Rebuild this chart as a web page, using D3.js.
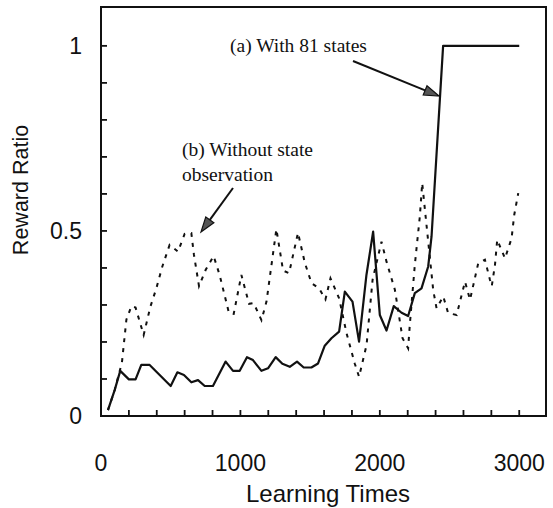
<!DOCTYPE html>
<html><head><meta charset="utf-8">
<script src="https://cdn.jsdelivr.net/npm/d3@7"></script>
<style>body{margin:0;background:#fff}svg{display:block}</style>
</head><body>
<svg id="chart" width="553" height="508"></svg>
<script>
// Series (a): with 81 states (solid)
const aX = [50,98,138,200,248,289,349,500,548,595,648,696,744,803,894,947,995,1047,1090,1151,1198,1253,1301,1354,1406,1454,1509,1557,1605,1653,1708,1749,1804,1851,1904,1952,2000,2048,2100,2156,2203,2251,2299,2347,2371,2454,3000];
const aY = [0.016,0.07,0.122,0.099,0.099,0.138,0.138,0.081,0.118,0.111,0.091,0.097,0.081,0.081,0.147,0.122,0.122,0.159,0.151,0.122,0.129,0.159,0.141,0.133,0.147,0.131,0.131,0.142,0.19,0.21,0.228,0.336,0.309,0.201,0.381,0.498,0.273,0.231,0.297,0.279,0.27,0.332,0.345,0.404,0.485,1.0,1.0];
// Series (b): without state observation (dashed)
const bX = [50,98,150,182,218,248,306,354,397,440,492,552,600,648,667,703,751,808,851,918,952,1007,1062,1095,1151,1187,1258,1306,1349,1413,1462,1510,1564,1610,1646,1708,1761,1820,1851,1905,1948,2012,2048,2108,2163,2203,2215,2251,2287,2304,2383,2407,2455,2490,2551,2611,2647,2706,2754,2790,2803,2826,2842,2898,2945,2964,2993];
const bY = [0.016,0.07,0.144,0.26,0.297,0.293,0.219,0.295,0.345,0.404,0.462,0.444,0.492,0.494,0.435,0.351,0.395,0.432,0.381,0.278,0.276,0.381,0.303,0.305,0.259,0.309,0.505,0.393,0.386,0.495,0.414,0.359,0.345,0.315,0.372,0.318,0.224,0.142,0.106,0.192,0.368,0.471,0.417,0.341,0.21,0.183,0.246,0.408,0.539,0.629,0.34,0.291,0.323,0.278,0.273,0.363,0.314,0.413,0.422,0.368,0.351,0.408,0.476,0.426,0.48,0.543,0.602];
const xTicks = [0,1000,2000,3000];
const yTickLabels = [{v:0,t:"0"},{v:0.5,t:"0.5"},{v:1,t:"1"}];
const xMinor = d3.range(200,3001,200);
const yMinor = d3.range(1,11).map(d=>d/10);
const xLabel = "Learning Times";
const yLabel = "Reward Ratio";
const noteA = "(a) With 81 states";
const noteB = ["(b) Without state","observation"];

const svg = d3.select("#chart");
const L=101, T=7, R=546, B=416;
const x = d3.scaleLinear().domain([0,3192]).range([L,R]);
const y = d3.scaleLinear().domain([0,1.105]).range([B,T]);

// ticks (inward), drawn from the scales
svg.append("g").selectAll("line").data(xMinor).join("line")
  .attr("x1",d=>x(d)).attr("x2",d=>x(d)).attr("y1",B).attr("y2",B-6)
  .attr("stroke","#111").attr("stroke-width",1.8);
svg.append("g").selectAll("line").data(yMinor).join("line")
  .attr("x1",L).attr("x2",L+6).attr("y1",d=>y(d)).attr("y2",d=>y(d))
  .attr("stroke","#111").attr("stroke-width",1.8);

// tick labels
svg.append("g").selectAll("text").data(xTicks).join("text")
  .attr("x",d=>x(d)).attr("y",471).attr("text-anchor","middle")
  .attr("font-family","Liberation Sans, Arial, sans-serif").attr("font-size",23).attr("fill","#111")
  .text(d=>d);
svg.append("g").selectAll("text").data(yTickLabels).join("text")
  .attr("x",82).attr("y",d=>y(d.v)+8.3).attr("text-anchor","end")
  .attr("font-family","Liberation Sans, Arial, sans-serif").attr("font-size",23).attr("fill","#111")
  .text(d=>d.t);

// axis titles
svg.append("text").attr("x",328).attr("y",502).attr("text-anchor","middle")
  .attr("font-family","Liberation Sans, Arial, sans-serif").attr("font-size",24).attr("fill","#111").text(xLabel);
svg.append("text").attr("transform","translate(28,190) rotate(-90)").attr("text-anchor","middle")
  .attr("font-family","Liberation Sans, Arial, sans-serif").attr("font-size",21.5).attr("fill","#111").text(yLabel);

// lines
const line = d3.line().x(d=>x(d[0])).y(d=>y(d[1]));
svg.append("path").datum(bX.map((v,i)=>[v,bY[i]])).attr("d",line)
  .attr("fill","none").attr("stroke","#111").attr("stroke-width",2).attr("stroke-dasharray","4,6");
svg.append("path").datum(aX.map((v,i)=>[v,aY[i]])).attr("d",line)
  .attr("fill","none").attr("stroke","#111").attr("stroke-width",2.2).attr("stroke-linejoin","round");

// frame
svg.append("rect").attr("x",L).attr("y",T).attr("width",R-L).attr("height",B-T)
  .attr("fill","none").attr("stroke","#111").attr("stroke-width",2);

// annotations
const serif = "Liberation Serif, Times New Roman, serif";
svg.append("text").attr("x",230).attr("y",52).attr("font-family",serif).attr("font-size",19.5).attr("fill","#111").text(noteA);
svg.append("text").attr("x",182).attr("y",156).attr("font-family",serif).attr("font-size",19.5).attr("fill","#111")
  .selectAll("tspan").data(noteB).join("tspan").attr("x",182).attr("dy",(d,i)=>i?25:0).text(d=>d);

function arrow(x1,y1,x2,y2){
  const ang=Math.atan2(y2-y1,x2-x1), len=15, w=5;
  const bx=x2-len*Math.cos(ang), by=y2-len*Math.sin(ang);
  svg.append("line").attr("x1",x1).attr("y1",y1).attr("x2",bx).attr("y2",by)
    .attr("stroke","#111").attr("stroke-width",2);
  const pts=[[x2,y2],[bx+w*Math.sin(ang),by-w*Math.cos(ang)],[bx-w*Math.sin(ang),by+w*Math.cos(ang)]];
  svg.append("polygon").attr("points",pts.map(p=>p.join(",")).join(" "))
    .attr("fill","#555").attr("stroke","#111").attr("stroke-width",1.2);
}
arrow(353,61,439,96);
arrow(233,188,201,232);
</script>
</body></html>
